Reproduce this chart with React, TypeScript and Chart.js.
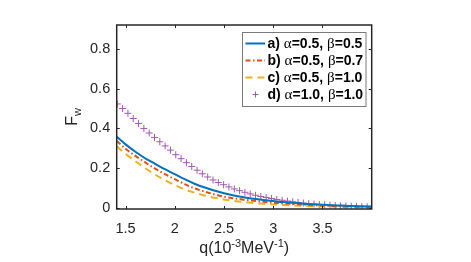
import React, { useEffect, useRef } from "react";
import { Chart, registerables } from "chart.js";

Chart.register(...registerables);

// ---- data ----
const qLine = [1.41, 1.5, 1.6, 1.7, 1.8, 1.9, 2.0, 2.1, 2.2, 2.3, 2.4, 2.5, 2.6, 2.7, 2.8, 2.9, 3.0, 3.1, 3.2, 3.3, 3.4, 3.5, 3.6, 3.7, 3.8, 3.9, 4.0];
const fwA = [0.358, 0.32, 0.283, 0.25, 0.222, 0.195, 0.17, 0.145, 0.122, 0.104, 0.088, 0.074, 0.063, 0.054, 0.046, 0.04, 0.035, 0.03, 0.026, 0.022, 0.019, 0.017, 0.014, 0.012, 0.01, 0.009, 0.008];
const fwB = [0.337, 0.298, 0.262, 0.229, 0.198, 0.17, 0.145, 0.12, 0.099, 0.083, 0.069, 0.057, 0.049, 0.042, 0.036, 0.031, 0.027, 0.023, 0.02, 0.017, 0.014, 0.012, 0.01, 0.008, 0.007, 0.006, 0.005];
const fwC = [0.31, 0.272, 0.235, 0.2, 0.168, 0.14, 0.115, 0.094, 0.077, 0.063, 0.052, 0.043, 0.036, 0.03, 0.025, 0.021, 0.018, 0.015, 0.013, 0.011, 0.009, 0.008, 0.007, 0.006, 0.005, 0.004, 0.004];
const qD = [1.416, 1.47, 1.524, 1.578, 1.632, 1.686, 1.74, 1.794, 1.848, 1.902, 1.956, 2.01, 2.064, 2.118, 2.172, 2.226, 2.28, 2.334, 2.388, 2.442, 2.496, 2.55, 2.604, 2.658, 2.712, 2.766, 2.82, 2.874, 2.928, 2.982, 3.036, 3.09, 3.144, 3.198, 3.252, 3.306, 3.36, 3.414, 3.468, 3.522, 3.576, 3.63, 3.684, 3.738, 3.792, 3.846, 3.9, 3.954];
const fwD = [0.523, 0.5, 0.476, 0.45, 0.425, 0.4, 0.377, 0.355, 0.333, 0.312, 0.291, 0.268, 0.248, 0.228, 0.209, 0.19, 0.172, 0.156, 0.141, 0.128, 0.117, 0.106, 0.096, 0.087, 0.079, 0.071, 0.064, 0.058, 0.053, 0.048, 0.043, 0.039, 0.035, 0.031, 0.028, 0.025, 0.022, 0.02, 0.018, 0.016, 0.014, 0.012, 0.011, 0.01, 0.009, 0.008, 0.007, 0.006];

const seriesTags = ["a)", "b)", "c)", "d)"];
const alphas = ["0.5", "0.5", "0.5", "1.0"];
const betas = ["0.5", "0.7", "1.0", "1.0"];
const xTicks = [1.5, 2, 2.5, 3, 3.5];
const yTicks = [0, 0.2, 0.4, 0.6, 0.8];

const COLORS = ["#0072BD", "#D95319", "#EDB120", "#A05AB0"];
const DASHES: number[][] = [[], [5, 2.5, 1.5, 2.5], [7, 5], []];
const AX = "#262626";
const SANS = "'Liberation Sans', Arial, sans-serif";
const SERIF = "'Liberation Serif', 'Times New Roman', serif";

const toPts = (xs: number[], ys: number[]) => xs.map((x, i) => ({ x, y: ys[i] }));

const decorPlugin = {
  id: "decor",
  afterDatasetsDraw(chart: any) {
    const { ctx, chartArea: a, scales } = chart;
    const xs = scales.x, ys = scales.y;
    ctx.save();
    // box
    ctx.strokeStyle = AX;
    ctx.lineWidth = 1.5;
    ctx.strokeRect(a.left, a.top, a.right - a.left, a.bottom - a.top);
    // inward ticks
    ctx.lineWidth = 1;
    const tl = 3;
    xTicks.forEach((v) => {
      const px = Math.round(xs.getPixelForValue(v)) + 0.5;
      ctx.beginPath();
      ctx.moveTo(px, a.bottom); ctx.lineTo(px, a.bottom - tl);
      ctx.moveTo(px, a.top); ctx.lineTo(px, a.top + tl);
      ctx.stroke();
    });
    yTicks.forEach((v) => {
      const py = Math.round(ys.getPixelForValue(v)) + 0.5;
      ctx.beginPath();
      ctx.moveTo(a.left, py); ctx.lineTo(a.left + tl, py);
      ctx.moveTo(a.right, py); ctx.lineTo(a.right - tl, py);
      ctx.stroke();
    });

    // legend
    const bx = 242.5, by = 32.5, bw = 123.5, bh = 74;
    ctx.fillStyle = "#fff";
    ctx.fillRect(bx, by, bw, bh);
    ctx.strokeStyle = "#7a7a7a";
    ctx.lineWidth = 1;
    ctx.strokeRect(bx, by, bw, bh);
    const rowY = [43.5, 60.5, 77.5, 94.5];
    seriesTags.forEach((tag, i) => {
      const y = rowY[i];
      ctx.save();
      if (i < 3) {
        ctx.strokeStyle = COLORS[i];
        ctx.lineWidth = 2;
        ctx.setLineDash(DASHES[i]);
        ctx.beginPath();
        ctx.moveTo(245.5, y); ctx.lineTo(265, y);
        ctx.stroke();
      } else {
        ctx.strokeStyle = COLORS[i];
        ctx.lineWidth = 1;
        ctx.beginPath();
        ctx.moveTo(255.5 - 3, y); ctx.lineTo(255.5 + 3, y);
        ctx.moveTo(255.5, y - 3); ctx.lineTo(255.5, y + 3);
        ctx.stroke();
      }
      ctx.restore();
      const parts: [string, string][] = [
        [tag + " ", `bold 14px ${SANS}`],
        ["\u03B1", `15px ${SERIF}`],
        ["=" + alphas[i] + ", ", `bold 14px ${SANS}`],
        ["\u03B2", `15px ${SERIF}`],
        ["=" + betas[i], `bold 14px ${SANS}`],
      ];
      let x = 267.5;
      ctx.fillStyle = "#000";
      ctx.textBaseline = "middle";
      ctx.textAlign = "left";
      parts.forEach(([t, f]) => {
        ctx.font = f;
        ctx.fillText(t, x, y + 0.5);
        x += ctx.measureText(t).width;
      });
    });

    // x title
    ctx.fillStyle = AX;
    ctx.textBaseline = "alphabetic";
    const big = `16px ${SANS}`, small = `11px ${SANS}`;
    const xparts: [string, string, number][] = [
      ["q(10", big, 0], ["-3", small, -6], ["MeV", big, 0], ["-1", small, -6], [")", big, 0],
    ];
    let tw = 0;
    xparts.forEach(([t, f]) => { ctx.font = f; tw += ctx.measureText(t).width; });
    let cx = (a.left + a.right) / 2 - tw / 2;
    xparts.forEach(([t, f, dy]) => {
      ctx.font = f;
      ctx.fillText(t, cx, 253 + dy);
      cx += ctx.measureText(t).width;
    });

    // y title
    ctx.save();
    ctx.font = big;
    const wF = ctx.measureText("F").width;
    ctx.font = small;
    const wW = ctx.measureText("w").width;
    const cy = (a.top + a.bottom) / 2;
    ctx.translate(77, cy + (wF + wW) / 2);
    ctx.rotate(-Math.PI / 2);
    ctx.font = big;
    ctx.fillText("F", 0, 0);
    ctx.font = small;
    ctx.fillText("w", wF, 4);
    ctx.restore();

    ctx.restore();
  },
};

export default function App() {
  const ref = useRef<HTMLCanvasElement | null>(null);
  useEffect(() => {
    if (!ref.current) return;
    const labels = seriesTags.map((t, i) => `${t} \u03B1=${alphas[i]}, \u03B2=${betas[i]}`);
    const chart = new Chart(ref.current, {
      type: "scatter",
      data: {
        datasets: [
          { label: labels[0], data: toPts(qLine, fwA), showLine: true, borderColor: COLORS[0], borderWidth: 2, pointRadius: 0, cubicInterpolationMode: "monotone" },
          { label: labels[1], data: toPts(qLine, fwB), showLine: true, borderColor: COLORS[1], borderWidth: 2, borderDash: DASHES[1], pointRadius: 0, cubicInterpolationMode: "monotone" },
          { label: labels[2], data: toPts(qLine, fwC), showLine: true, borderColor: COLORS[2], borderWidth: 2, borderDash: DASHES[2], pointRadius: 0, cubicInterpolationMode: "monotone" },
          { label: labels[3], data: toPts(qD, fwD), showLine: false, borderColor: COLORS[3], backgroundColor: COLORS[3], borderWidth: 1, pointStyle: "cross", pointRadius: 3.5 },
        ] as any,
      },
      options: {
        responsive: false,
        animation: false,
        layout: { padding: { left: 0, top: 25, right: 99.3, bottom: 0 } },
        plugins: { legend: { display: false }, tooltip: { enabled: false }, title: { display: false } },
        scales: {
          x: {
            type: "linear",
            min: 1.41,
            max: 4.0,
            grid: { display: false, drawTicks: false },
            border: { display: false },
            afterBuildTicks: (s: any) => { s.ticks = xTicks.map((v) => ({ value: v })); },
            afterFit: (s: any) => { s.height = 53; },
            ticks: { color: AX, font: { family: SANS, size: 14.5 }, padding: 11, maxRotation: 0, autoSkip: false, callback: (v: any) => String(v) },
          },
          y: {
            type: "linear",
            min: -0.005,
            max: 0.92,
            grid: { display: false, drawTicks: false },
            border: { display: false },
            afterBuildTicks: (s: any) => { s.ticks = yTicks.map((v) => ({ value: v })); },
            afterFit: (s: any) => { s.width = 116.7; },
            ticks: { color: AX, font: { family: SANS, size: 14.5 }, padding: 6.5, autoSkip: false, callback: (v: any) => String(v) },
          },
        },
      },
      plugins: [decorPlugin],
    });
    return () => chart.destroy();
  }, []);
  return (
    <div style={{ position: "absolute", left: 0, top: 0, width: 471, height: 262, background: "#fff" }}>
      <canvas ref={ref} width={471} height={262} />
    </div>
  );
}
